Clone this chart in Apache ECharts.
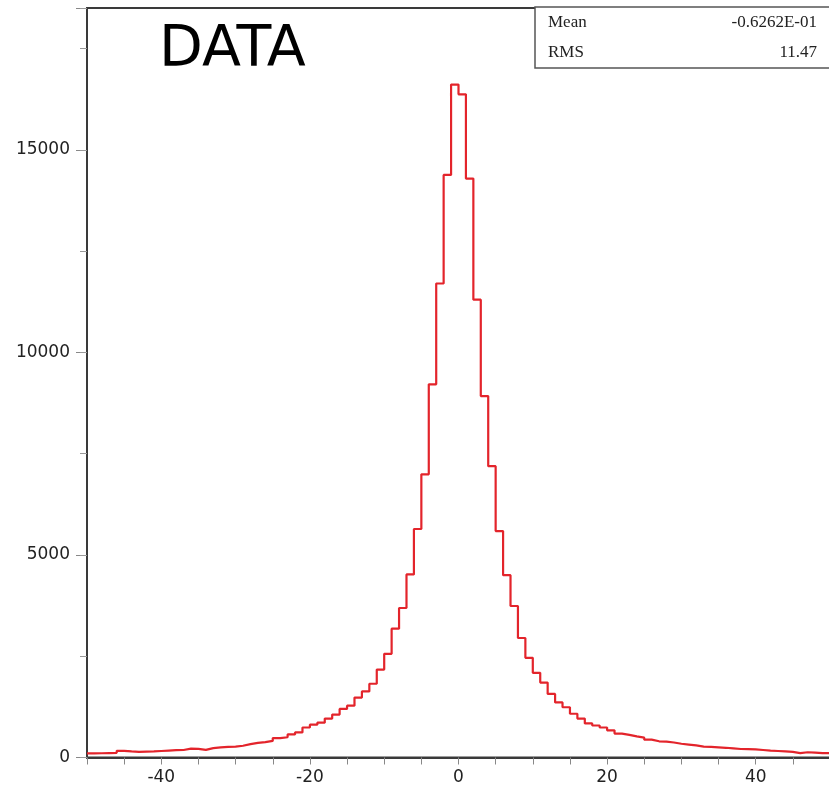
<!DOCTYPE html>
<html>
<head>
<meta charset="utf-8">
<script src="https://cdn.jsdelivr.net/npm/echarts@6/dist/echarts.min.js"></script>
<style>
html,body{margin:0;padding:0;background:#fff;}
#chart{width:829px;height:796px;}
</style>
</head>
<body>
<div id="chart"></div>
<script>
// Histogram: 100 bins of width 1 from -50 to 50
const xMin = -50;
const xMax = 50;
const binWidth = 1;
const counts = [
  100, 105, 110, 115, 165, 150, 140, 145, 150, 160,     // -50 .. -41
  170, 180, 185, 220, 215, 190, 230, 250, 260, 270,     // -40 .. -31
  290, 330, 360, 380, 410, 480, 500, 570, 620, 740,     // -30 .. -21
  810, 860, 960, 1060, 1200, 1280, 1480, 1630, 1820, 2170, // -20 .. -11
  2560, 3180, 3690, 4520, 5640, 6990, 9210, 11700, 14380, 16610, // -10 .. -1
  16370, 14290, 11300, 8920, 7190, 5590, 4500, 3740, 2950, 2460, // 0 .. 9
  2090, 1850, 1570, 1360, 1240, 1080, 960, 840, 790, 740,   // 10 .. 19
  670, 590, 560, 520, 490, 440, 400, 390, 370, 340,        // 20 .. 29
  320, 300, 270, 260, 250, 240, 225, 210, 205, 200,        // 30 .. 39
  185, 170, 160, 150, 140, 110, 130, 120, 110, 105         // 40 .. 49
];
const xTickLabels = [-40, -20, 0, 20, 40];
const yTickLabels = [0, 5000, 10000, 15000];
const titleText = 'DATA';
const statsLabels = ['Mean', 'RMS'];
const statsValues = ['-0.6262E-01', '11.47'];

const lineData = counts.map((c, i) => [xMin + i * binWidth, c]);
lineData.push([xMax, counts[counts.length - 1]]);

const chart = echarts.init(document.getElementById('chart'), null, {renderer: 'canvas'});
const labelFont = 'DejaVu Sans';
const option = {
  animation: false,
  backgroundColor: '#ffffff',
  grid: {
    left: 87, top: 8, width: 743, height: 749.5,
    outerBoundsMode: 'none', containLabel: false,
    show: true, borderColor: '#3a3a3a', borderWidth: 2, backgroundColor: 'transparent'
  },
  xAxis: {
    type: 'value', min: xMin, max: xMax, interval: 5,
    axisLine: {show: true, onZero: false, lineStyle: {color: '#3a3a3a', width: 2}},
    axisTick: {show: true, inside: false, length: 7, lineStyle: {color: '#888', width: 1}},
    splitLine: {show: false},
    axisLabel: {
      margin: 12, color: '#222', fontFamily: labelFont, fontSize: 17,
      showMinLabel: true, showMaxLabel: true,
      formatter: v => (xTickLabels.indexOf(v) >= 0 ? String(v) : '')
    }
  },
  yAxis: [
    {
      type: 'value', min: 0, max: 18500, interval: 5000, position: 'left',
      axisLine: {show: true, onZero: false, lineStyle: {color: '#3a3a3a', width: 2}},
      axisTick: {show: true, length: 11, lineStyle: {color: '#888', width: 1}},
      splitLine: {show: false},
      axisLabel: {
        margin: 17, color: '#222', fontFamily: labelFont, fontSize: 17,
        formatter: v => (yTickLabels.indexOf(v) >= 0 ? String(v) : '')
      }
    },
    {
      type: 'value', min: 0, max: 18500, interval: 2500, position: 'left',
      axisLine: {show: false, onZero: false},
      axisTick: {show: true, length: 7, lineStyle: {color: '#999', width: 1}},
      splitLine: {show: false},
      axisLabel: {show: false}
    }
  ],
  series: [{
    type: 'line',
    step: 'end',
    data: lineData,
    symbol: 'none',
    yAxisIndex: 0,
    clip: true,
    lineStyle: {color: '#e3242b', width: 2.2}
  }],
  graphic: [
    {
      type: 'text', left: 159, top: 23,
      style: {text: titleText, fontFamily: 'DejaVu Sans', fontSize: 57, fill: '#000', fontWeight: 'normal'}
    },
    {
      type: 'rect', shape: {x: 535, y: 7, width: 300, height: 61},
      style: {fill: '#fff', stroke: '#555', lineWidth: 1.5}, z: 10
    },
    {
      type: 'text', x: 548, y: 23, z: 11,
      style: {text: statsLabels[0], fontFamily: 'Liberation Serif', fontSize: 17, fill: '#222', verticalAlign: 'middle'}
    },
    {
      type: 'text', x: 548, y: 53, z: 11,
      style: {text: statsLabels[1], fontFamily: 'Liberation Serif', fontSize: 17, fill: '#222', verticalAlign: 'middle'}
    },
    {
      type: 'text', x: 817, y: 23, z: 11,
      style: {text: statsValues[0], fontFamily: 'Liberation Serif', fontSize: 17, fill: '#222', align: 'right', verticalAlign: 'middle'}
    },
    {
      type: 'text', x: 817, y: 53, z: 11,
      style: {text: statsValues[1], fontFamily: 'Liberation Serif', fontSize: 17, fill: '#222', align: 'right', verticalAlign: 'middle'}
    }
  ]
};
chart.setOption(option);
</script>
</body>
</html>
